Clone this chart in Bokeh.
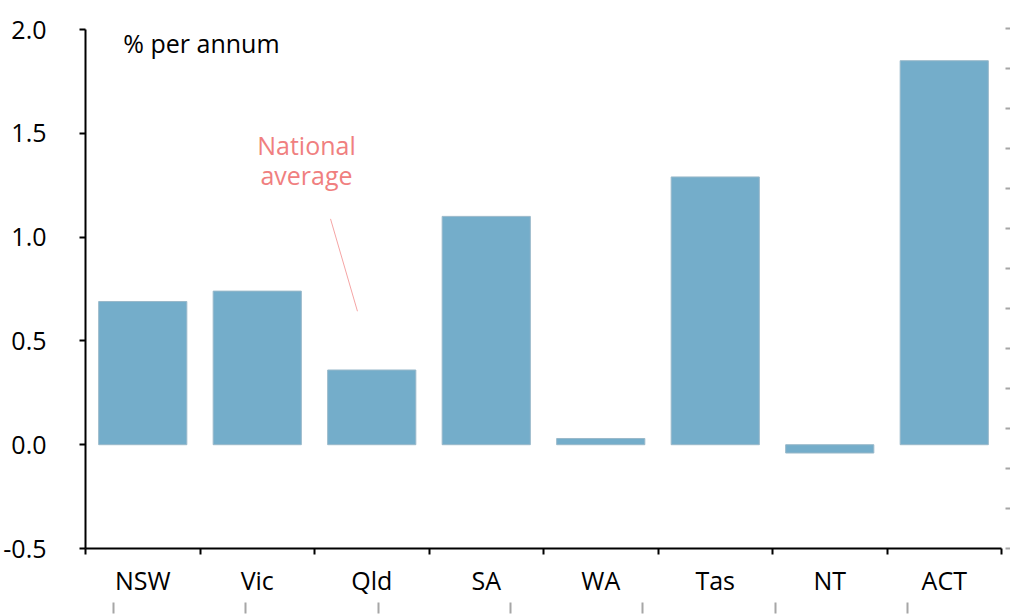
from bokeh.plotting import figure
from bokeh.models import (Range1d, LinearAxis, FixedTicker, Label, ColumnDataSource,
                          PrintfTickFormatter, CustomJSTickFormatter, CustomLabelingPolicy)
from bokeh.core.properties import value
from bokeh.embed import file_html
from bokeh.resources import INLINE

# ---- data ----
states = ["NSW", "Vic", "Qld", "SA", "WA", "Tas", "NT", "ACT"]
growth = [0.69, 0.74, 0.36, 1.10, 0.03, 1.29, -0.04, 1.85]
y_ticks = [-0.5, 0.0, 0.5, 1.0, 1.5, 2.0]
unit_label = "% per annum"
note_lines = ["National", "average"]

FONT = "Open Sans"
BAR = "#74adca"
PINK = "#f07f80"
GREY = "#a6a6a6"

xs = [i + 0.5 for i in range(len(states))]
src = ColumnDataSource(dict(x=xs, top=growth, state=states))

p = figure(width=1010, height=614, output_backend="svg", toolbar_location=None,
           x_range=Range1d(0, len(states)), y_range=Range1d(-0.5, 2.01),
           min_border_left=85, min_border_right=9, min_border_top=27, min_border_bottom=66,
           x_axis_location=None, y_axis_location=None)
p.xgrid.visible = False
p.ygrid.visible = False
p.outline_line_color = None
p.background_fill_color = "white"
p.border_fill_color = "white"

# bars
p.vbar(x="x", top="top", bottom=0, width=0.77, source=src,
       fill_color=BAR, line_color="#9ab9ca", line_width=1)

# left axis
yax = LinearAxis(ticker=FixedTicker(ticks=y_ticks), bounds=(-0.5, 2.0),
                 formatter=PrintfTickFormatter(format="%.1f"),
                 axis_line_color="black", axis_line_width=2,
                 major_tick_line_color="black", major_tick_line_width=2,
                 major_tick_in=0, major_tick_out=6,
                 minor_tick_line_color=None,
                 major_label_standoff=33,
                 major_label_text_font=FONT, major_label_text_font_size="25px",
                 major_label_text_color="black")
p.add_layout(yax, "left")

def blank_axis(**kw):
    return LinearAxis(axis_line_color=None,
                      major_tick_line_color=GREY, major_tick_line_width=2,
                      minor_tick_line_color=None,
                      formatter=CustomJSTickFormatter(code="return ''"),
                      major_label_policy=CustomLabelingPolicy(
                          code="for (let i = 0; i < indices.size; i++) { indices.unset(i) } return indices"),
                      major_label_text_font_size="1px", major_label_standoff=0, **kw)

# right grey ticks
p.extra_y_ranges = {"r": Range1d(0.99, 14.02)}
rax = blank_axis(y_range_name="r", ticker=FixedTicker(ticks=list(range(1, 15))),
                 major_tick_in=-4, major_tick_out=9)
p.add_layout(rax, "right")

# bottom category axis
xax = LinearAxis(ticker=FixedTicker(ticks=xs, minor_ticks=list(range(len(states) + 1))),
                 major_label_overrides={x: s for x, s in zip(xs, states)},
                 axis_line_color="black", axis_line_width=2,
                 major_tick_line_color=None, major_tick_in=0, major_tick_out=6,
                 minor_tick_line_color="black", minor_tick_line_width=2,
                 minor_tick_in=0, minor_tick_out=6,
                 major_label_standoff=8,
                 major_label_text_font=FONT, major_label_text_font_size="25px",
                 major_label_text_color="black")
p.add_layout(xax, "below")

# bottom grey ticks
p.extra_x_ranges = {"g": Range1d(-0.2116, 6.712)}
gax = blank_axis(x_range_name="g", ticker=FixedTicker(ticks=list(range(7))),
                 major_tick_in=-3, major_tick_out=14)
p.add_layout(gax, "below")

# texts
p.add_layout(Label(x=0.33, y=1.934, text=unit_label, text_font=FONT,
                   text_font_size="25px", text_baseline="middle", text_color="black"))
p.text(x=[1.93, 1.93], y=[1.446, 1.30], text=note_lines, text_font=value(FONT),
       text_font_size="25px", text_align="center", text_baseline="middle", text_color=PINK)
p.segment(x0=[2.14], y0=[1.088], x1=[2.375], y1=[0.643], line_color="#f5a5a5", line_width=1)

open("out.html", "w").write(file_html(p, INLINE))
